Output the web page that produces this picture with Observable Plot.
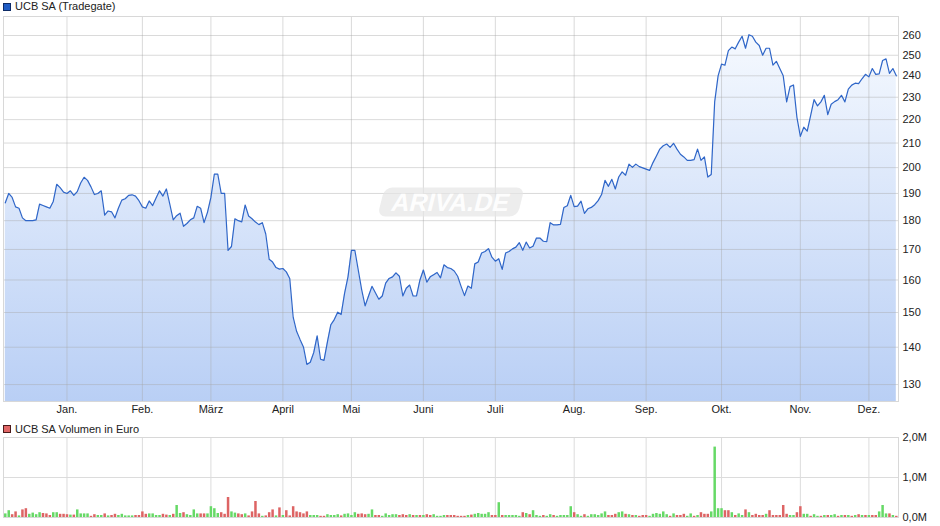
<!DOCTYPE html>
<html><head><meta charset="utf-8">
<script src="https://cdn.jsdelivr.net/npm/d3@7"></script>
<script src="https://cdn.jsdelivr.net/npm/@observablehq/plot@0.6"></script>
<style>
html,body{margin:0;padding:0;background:#fff;}
#wrap{width:940px;height:526px;position:relative;overflow:hidden;font-family:"Liberation Sans",Arial,sans-serif;}
.legend{height:16px;font-size:11px;line-height:13px;color:#222;position:relative;}
.legend .sw{position:absolute;left:3px;width:6px;height:6px;border:1px solid;}
.legend .lab{position:absolute;left:15px;white-space:nowrap;}
svg{display:block;overflow:visible;}
</style></head><body>
<div id="wrap">
  <div class="legend" id="leg1"><span class="sw" style="top:3px;background:#1f5cc4;border-color:#0d2b66"></span><span class="lab" style="top:0px">UCB SA (Tradegate)</span></div>
  <div id="c1"></div>
  <div class="legend" id="leg2"><span class="sw" style="top:4px;background:#e06666;border-color:#4a1a1a"></span><span class="lab" style="top:2px">UCB SA Volumen in Euro</span></div>
  <div id="c2"></div>
</div>
<script>
// daily closing prices (EUR), trading-day index 0 = early Dec 2024
const prices = [
186.5,190,188.5,185,184.5,181,180,180,180,180.3,
186,185.5,185,184.5,187,193.5,192.2,190.5,190,191,
189.3,190.7,194,196.2,195,192.5,189.6,190,191,182,
183.5,183.2,181,184.5,187.5,188,189.3,189.5,189,187.3,
185,184.5,187.2,185.5,188.3,191,189,191.7,186,180.3,
181.8,182.7,178,179,180.3,181,185.2,184.5,179.3,183,
188.5,197.4,197.4,190,190,169.7,171,180.7,180,179.6,
185.7,181.7,180.7,179.5,178.6,179.3,175.3,166.7,165.8,164,
163.5,163.7,162.6,160.5,148.6,144.5,142.2,140.1,135.3,135.9,
138.5,143.2,136.7,136.4,141.5,146.4,147.9,150.1,149.4,155.8,
161,169.7,169.7,163.2,156.9,152,155,158,156,154,
155,159,160.5,161,162.3,161.2,155,157.4,158.4,155,
155,160,163.2,159.3,161,161.7,162.4,160.7,164.9,164,
163.7,162.9,161.2,158,155.1,158.1,157.4,165.2,165.8,168.8,
169.3,170.3,167.4,166.1,166.9,163.4,168.8,169.3,170.2,170.8,
172.3,169.7,172.5,170.5,171.1,173.9,173.9,172.8,172.7,179.3,
178.5,178.5,178.7,184.8,185.4,189.3,185.1,185.3,187.1,182.6,
184.3,184.8,185.8,187.3,189.6,195,192.7,195.4,191.7,196.3,
198.3,197,201.4,200.1,201.4,200.4,199.9,199.4,198.9,202,
204.7,207.5,208.9,209.6,208.2,209.9,207.5,205.4,204.3,202.9,
202.9,203.2,207.5,202.9,204.3,196.3,197.3,227.9,240,245.6,
245.1,252.3,254.1,253.2,256.6,259.6,253.5,260.4,259.6,256.6,
254.9,250,253.5,253.5,245.1,247,243.5,240,227.9,234.9,
235.7,221,212.8,216.7,215,221.8,228.9,226.1,227.9,230.9,
222.2,226.8,228,228.9,230.9,227.9,233.7,235.6,236.5,236.3,
238.6,240.7,239.5,243.5,240.7,240.9,247.4,248.2,241.2,243.5,240
];
// daily volume in million EUR
const volumes = [
.09,.17,.07,.14,.04,.19,.22,.08,.11,.07,
.12,.10,.09,.05,.12,.12,.08,.08,.07,.06,
.06,.19,.09,.09,.09,.03,.07,.05,.05,.09,
.04,.05,.08,.05,.08,.04,.04,.04,.05,.05,
.14,.08,.09,.09,.05,.05,.08,.06,.05,.08,
.30,.10,.12,.07,.05,.19,.09,.09,.09,.09,
.27,.22,.10,.12,.08,.50,.14,.11,.09,.07,
.09,.04,.14,.40,.09,.03,.04,.12,.19,.04,
.24,.05,.17,.04,.27,.14,.12,.09,.14,.05,
.05,.05,.03,.03,.07,.05,.05,.07,.04,.08,
.09,.05,.12,.08,.09,.07,.08,.19,.05,.05,
.03,.09,.05,.07,.07,.05,.07,.05,.07,.05,
.05,.05,.05,.07,.05,.07,.03,.03,.05,.05,
.05,.05,.03,.03,.03,.05,.06,.08,.10,.08,
.08,.12,.05,.05,.37,.05,.05,.05,.05,.05,
.03,.12,.10,.07,.17,.05,.03,.05,.03,.07,
.05,.03,.05,.05,.05,.27,.12,.07,.03,.07,
.03,.07,.07,.05,.09,.14,.05,.05,.08,.12,
.14,.08,.07,.05,.05,.03,.05,.05,.03,.08,
.10,.08,.14,.07,.03,.09,.05,.05,.08,.03,
.09,.03,.05,.12,.08,.08,.14,1.76,.22,.22,
.17,.17,.12,.05,.09,.05,.19,.12,.05,.08,
.05,.05,.08,.17,.05,.05,.05,.30,.08,.05,
.05,.12,.27,.08,.08,.03,.07,.03,.03,.05,
.05,.05,.07,.03,.05,.05,.05,.03,.05,.07,
.05,.05,.05,.05,.05,.14,.30,.09,.09,.05,.03
];
// 1 = green bar, 0 = red bar
const upDay = [
1,1,0,0,1,0,0,1,1,1, 1,0,0,0,1,1,0,0,0,1, 0,1,1,1,1,0,0,1,1,0, 1,0,0,1,1,1,1,1,0,0,
0,0,1,1,1,1,0,0,1,0, 1,1,0,1,1,1,1,0,0,1, 1,1,1,0,0,0,1,1,0,0, 1,0,0,0,0,1,0,0,0,1,
0,1,0,0,0,0,0,0,0,1, 1,1,0,0,1,1,1,1,0,1, 1,1,1,0,0,0,1,1,0,0, 1,1,1,1,1,0,0,0,1,0,
1,0,1,0,0,1,1,1,1,0, 0,0,0,0,0,1,0,1,1,1, 1,1,0,0,1,0,1,1,1,1, 1,0,1,0,1,1,1,0,1,1,
0,1,1,1,1,1,0,1,1,0, 1,1,1,1,1,1,0,0,0,1, 1,0,1,0,1,0,0,0,1,1, 1,1,1,1,0,1,0,0,0,1,
1,0,1,0,0,0,1,1,1,1, 0,0,1,0,1,1,0,1,0,0, 0,0,1,0,0,0,0,0,0,1, 1,0,0,1,1,0,1,1,0,1,
0,1,1,0,1,0,1,0,1,0, 1,0,1,0,0,1,1,1,0,1,0
];
const monthLabels = ["Jan.","Feb.","März","April","Mai","Juni","Juli","Aug.","Sep.","Okt.","Nov.","Dez."];
const monthStart = [18,40,60,81,101,122,143,166,187,209,232,252];
const priceTicks = [130,140,150,160,170,180,190,200,210,220,230,240,250,260];
const volTicks = [0,1,2];

const days = prices.map((p, i) => ({i, price: p}));
const vols = volumes.map((v, i) => ({i, vol: v, up: upDay[i]}));
const months = monthLabels.map((label, k) => ({label, i: monthStart[k]}));

const xDomain = [-0.525, 260.64];
const yMin = 125.7, yMax = 270;
const FONT = "Liberation Sans, Arial, sans-serif";
const GRID = "#a8a8a8";

const gradientDefs = () => {
  const defs = d3.create("svg:defs");
  const lg = defs.append("linearGradient").attr("id", "ucbArea")
    .attr("gradientUnits", "userSpaceOnUse").attr("x1", 0).attr("y1", 0).attr("x2", 0).attr("y2", 385);
  lg.append("stop").attr("offset", 0).attr("stop-color", "#f8fbff");
  lg.append("stop").attr("offset", 1).attr("stop-color", "#b9cff5");
  return defs.node();
};
const watermark = () => {
  const g = d3.create("svg:g").attr("transform", "translate(451,186) skewX(-14)");
  g.append("rect").attr("x", -70).attr("y", -14.5).attr("width", 140).attr("height", 29).attr("rx", 8)
    .attr("fill", "#e6e6e6").attr("fill-opacity", 0.7);
  g.append("text").attr("text-anchor", "middle").attr("dy", "0.36em")
    .attr("font-family", FONT).attr("font-weight", "bold").attr("font-size", 25)
    .attr("fill", "#ffffff").attr("fill-opacity", 0.95).text("ARIVA.DE");
  return g.node();
};

const chart1 = Plot.plot({
  width: 940, height: 405,
  marginLeft: 3, marginRight: 42, marginTop: 0, marginBottom: 20,
  style: {fontFamily: FONT, fontSize: "11px", background: "#fff", overflow: "visible"},
  x: {domain: xDomain, axis: null},
  y: {type: "log", domain: [yMin, yMax], axis: null},
  marks: [
    gradientDefs,
    Plot.areaY(days, {x: "i", y1: yMin, y2: "price", fill: "url(#ucbArea)"}),
    Plot.ruleY(priceTicks, {stroke: GRID, strokeOpacity: 0.42}),
    Plot.ruleX(months, {x: "i", stroke: GRID, strokeOpacity: 0.42}),
    watermark,
    Plot.lineY(days, {x: "i", y: "price", stroke: "#2f66c8", strokeWidth: 1.2}),
    Plot.frame({stroke: "#d8d8d8"}),
    Plot.text(priceTicks, {y: d => d, text: d => String(d), frameAnchor: "right", textAnchor: "start", lineAnchor: "middle", dx: 4, fill: "#222", fontSize: 11, fontFamily: FONT}),
    Plot.text(months, {x: "i", text: "label", frameAnchor: "bottom", textAnchor: "middle", lineAnchor: "middle", dy: 8, fill: "#222", fontSize: 11, fontFamily: FONT})
  ]
});
document.getElementById("c1").appendChild(chart1);

const chart2 = Plot.plot({
  width: 940, height: 89,
  marginLeft: 3, marginRight: 42, marginTop: 0, marginBottom: 9,
  style: {fontFamily: FONT, fontSize: "11px", background: "#fff", overflow: "visible"},
  x: {domain: xDomain, axis: null},
  y: {domain: [0, 2], axis: null},
  marks: [
    Plot.ruleY(volTicks, {stroke: "#dcdcdc"}),
    Plot.ruleX(months, {x: "i", stroke: "#dcdcdc"}),
    Plot.ruleX(vols.filter(d => d.up), {x: "i", y1: 0, y2: "vol", stroke: "#66d966", strokeWidth: 2.5}),
    Plot.ruleX(vols.filter(d => !d.up), {x: "i", y1: 0, y2: "vol", stroke: "#dd6464", strokeWidth: 2.5}),
    Plot.frame({stroke: "#d8d8d8"}),
    Plot.text(volTicks, {y: d => d, text: d => d.toFixed(1).replace(".", ",") + "M", frameAnchor: "right", textAnchor: "start", lineAnchor: "middle", dx: 4, fill: "#222", fontSize: 11, fontFamily: FONT})
  ]
});
document.getElementById("c2").appendChild(chart2);
</script>
</body></html>
